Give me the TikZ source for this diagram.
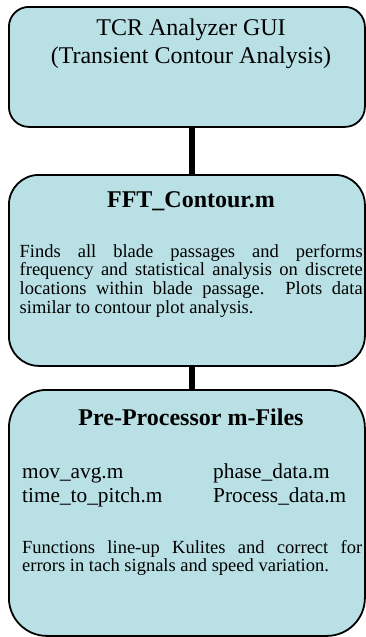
\documentclass[tikz,border=0pt]{standalone}
\usepackage{fontspec}
\setmainfont{Liberation Serif}
\definecolor{boxfill}{RGB}{185,224,228}
\begin{document}
\begin{tikzpicture}[x=1pt,y=-1pt,
  panel/.style={draw=black,line width=1.8pt,fill=boxfill,inner sep=0pt,anchor=north west},
  link/.style={line width=6pt,draw=black},
  titletext/.style={font=\fontsize{24}{28}\selectfont,align=center,anchor=base,inner sep=0pt},
  headtext/.style={font=\bfseries\fontsize{24}{28}\selectfont,anchor=base,inner sep=0pt},
  bodytext/.style={font=\fontsize{18.5}{18.7}\selectfont,align=justify,anchor=base west,inner sep=0pt},
  filetext/.style={font=\fontsize{21.3}{25}\selectfont,anchor=base west,inner sep=0pt}]
\useasboundingbox (0,0) rectangle (365,637);
% boxes
\node[panel,rounded corners=20pt,minimum width=356pt,minimum height=120pt] (b1) at (8,6) {};
\node[panel,rounded corners=30pt,minimum width=356pt,minimum height=191pt] (b2) at (8,174) {};
\node[panel,rounded corners=38pt,minimum width=356pt,minimum height=246pt] (b3) at (8,389) {};
% connectors
\draw[link] ([xshift=5pt]b1.south) -- ([xshift=5pt]b2.north);
\draw[link] ([xshift=5pt]b2.south) -- ([xshift=5pt]b3.north);
% box 1 text
\node[titletext] (t1a) at (191,35) {TCR Analyzer GUI};
\node[titletext] (t1b) at (191,63) {(Transient Contour Analysis)};
% box 2 text
\node[headtext] (t2) at (191,207) {FFT\_Contour.m};
\node[bodytext,text width=343pt] (d2) at (19.5,257) {Finds all blade passages and performs\linebreak frequency and statistical analysis on discrete\linebreak locations within blade passage.  Plots data\linebreak similar to contour plot analysis.};
% box 3 text
\node[headtext] (t3) at (191,425) {Pre-Processor m-Files};
\node[filetext] (f1) at (22,478) {mov\_avg.m};
\node[filetext] (f2) at (22,502) {time\_to\_pitch.m};
\node[filetext] (f3) at (213,478) {phase\_data.m};
\node[filetext] (f4) at (213,502) {Process\_data.m};
\node[bodytext,text width=340pt] (d3) at (22,553) {Functions line-up Kulites and correct for\linebreak errors in tach signals and speed variation.};
\end{tikzpicture}
\end{document}
